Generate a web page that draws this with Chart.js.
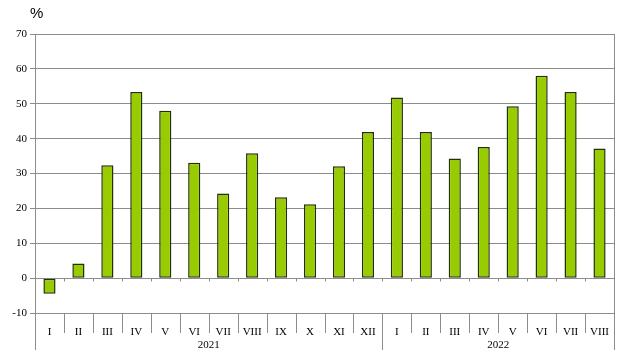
<!DOCTYPE html>
<html>
<head>
<meta charset="utf-8">
<script src="https://cdn.jsdelivr.net/npm/chart.js@4"></script>
<style>
    html, body { margin: 0; padding: 0; background: #fff; }
    #wrap { position: relative; width: 620px; height: 362px; }
    #pct { position: absolute; left: 30px; top: 4px; font: 15px "Liberation Sans", Arial, sans-serif; color: #000; }
</style>
</head>
<body>
<div id="wrap">
    <canvas id="chart" width="620" height="362"></canvas>
    <div id="pct">%</div>
</div>
<script>
const months = ['I', 'II', 'III', 'IV', 'V', 'VI', 'VII', 'VIII', 'IX', 'X', 'XI', 'XII',
    'I', 'II', 'III', 'IV', 'V', 'VI', 'VII', 'VIII'];
const years = ['2021', '2022'];
const monthsPerYear = [12, 8];
const values = [-4.5, 4.2, 32.4, 53.4, 48.0, 33.1, 24.3, 35.8, 23.2, 21.2, 32.1, 41.9,
    51.8, 41.9, 34.3, 37.6, 49.3, 58.0, 53.4, 37.2];
const yTicks = [-10, 0, 10, 20, 30, 40, 50, 60, 70];

const lineColor = '#8c8c8c';
const serif = '"Liberation Serif", "Times New Roman", serif';

// year row, dividers and right border
const groupLabels = {
    id: 'groupLabels',
    afterDraw(chart) {
        const { ctx, chartArea, scales } = chart;
        const x = scales.x;
        const y = scales.y;
        const bottom = chartArea.bottom;
        const half = (x.getPixelForValue(1) - x.getPixelForValue(0)) / 2;
        ctx.save();
        ctx.strokeStyle = lineColor;
        ctx.lineWidth = 1;

        // small ticks on the zero line
        const y0 = Math.round(y.getPixelForValue(0)) + 0.5;
        ctx.beginPath();
        for (let i = 1; i < months.length; i++) {
            const px = Math.round(x.getPixelForValue(i) - half) + 0.5;
            ctx.moveTo(px, y0);
            ctx.lineTo(px, y0 + 3);
        }
        ctx.stroke();

        // category dividers under the plot
        ctx.beginPath();
        for (let i = 1; i < months.length; i++) {
            const px = Math.round(x.getPixelForValue(i) - half) + 0.5;
            ctx.moveTo(px, bottom);
            ctx.lineTo(px, bottom + 20);
        }
        ctx.stroke();

        // year dividers and right border
        let start = 0;
        const edges = [0];
        monthsPerYear.forEach(n => { start += n; edges.push(start); });
        ctx.beginPath();
        edges.forEach((e, i) => {
            const px = Math.round(x.getPixelForValue(e) - half) + 0.5;
            const top = i === edges.length - 1 ? chartArea.top : bottom;
            ctx.moveTo(px, top);
            ctx.lineTo(px, bottom + 37);
        });
        ctx.stroke();

        ctx.fillStyle = '#000';
        ctx.font = '11px ' + serif;
        ctx.textAlign = 'center';
        ctx.textBaseline = 'middle';
        years.forEach((yr, i) => {
            const a = x.getPixelForValue(edges[i]) - half;
            const b = x.getPixelForValue(edges[i + 1]) - half;
            ctx.fillText(yr, (a + b) / 2, bottom + 32);
        });
        ctx.restore();
    }
};

new Chart(document.getElementById('chart'), {
    type: 'bar',
    data: {
        labels: months,
        datasets: [{
            data: values,
            backgroundColor: '#99cc00',
            borderColor: '#233005',
            borderWidth: 1.5,
            borderSkipped: false,
            barPercentage: 0.42,
            categoryPercentage: 1
        }]
    },
    options: {
        responsive: false,
        animation: false,
        layout: { padding: { top: 34, right: 6, left: 0, bottom: 0 } },
        plugins: {
            legend: { display: false },
            tooltip: { enabled: false }
        },
        scales: {
            x: {
                grid: { display: false },
                border: { display: false },
                ticks: {
                    color: '#000',
                    padding: 5,
                    maxRotation: 0,
                    autoSkip: false,
                    font: { family: serif, size: 11 }
                },
                afterFit: scale => { scale.height = 49; }
            },
            y: {
                min: -10,
                max: 70,
                afterBuildTicks: scale => { scale.ticks = yTicks.map(v => ({ value: v })); },
                grid: { color: lineColor, tickLength: 5 },
                border: { color: lineColor },
                ticks: {
                    color: '#000',
                    padding: 3,
                    font: { family: serif, size: 11 }
                },
                afterFit: scale => { scale.width = 35; }
            }
        }
    },
    plugins: [groupLabels]
});
</script>
</body>
</html>
